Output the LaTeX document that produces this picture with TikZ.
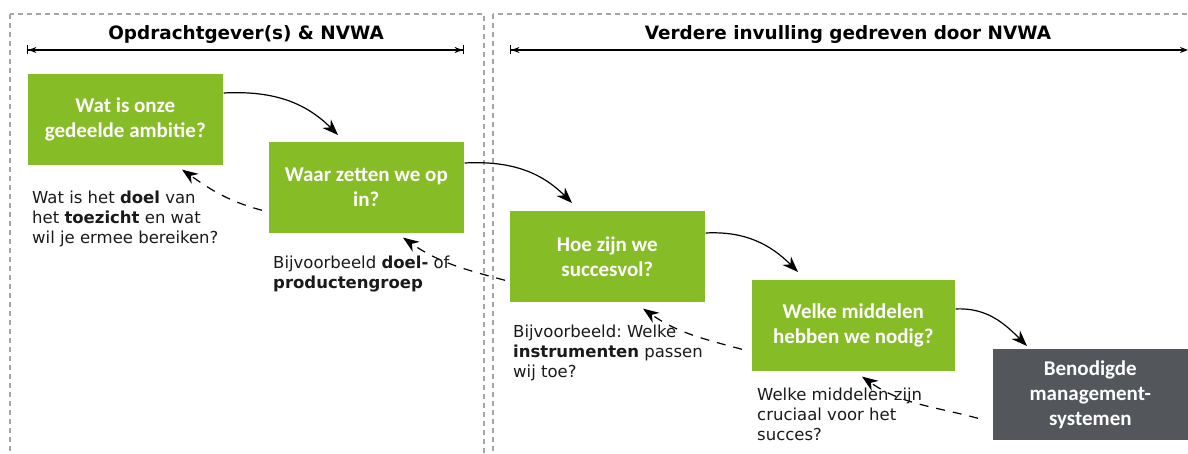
\documentclass[tikz,border=0pt]{standalone}
\usepackage{fontspec}
\setmainfont{DejaVu Sans}
\newfontfamily\boxfont{Carlito}
\usetikzlibrary{arrows.meta}
\frenchspacing

\definecolor{nvwagreen}{HTML}{86BC25}
\definecolor{nvwagrey}{HTML}{53565A}
\definecolor{panelgrey}{HTML}{A6A6A6}
\definecolor{notetext}{HTML}{1A1A1A}

\tikzset{
  stepbox/.style={fill=nvwagreen, draw=white, line width=0.6pt, text=white,
    align=center, anchor=north west, inner sep=0pt,
    minimum width=196pt, minimum height=92pt,
    font=\boxfont\bfseries\fontsize{21}{25}\selectfont},
  endbox/.style={stepbox, fill=nvwagrey},
  note/.style={anchor=north west, align=left, inner sep=0pt, text=notetext,
    font=\fontsize{16.5}{20}\selectfont},
  header/.style={font=\bfseries\fontsize{18.4}{22}\selectfont, inner sep=0pt},
  panel/.style={draw=panelgrey, line width=1.1pt, dash pattern=on 5pt off 4pt},
  span/.style={line width=1.4pt},
  flow/.style={line width=1.2pt, -{Stealth[length=16pt,width=12pt]}},
  back/.style={flow, dash pattern=on 9pt off 8pt}
}

\begin{document}
\begin{tikzpicture}[x=1pt,y=1pt]
\useasboundingbox (0,0) rectangle (1188,-454);

% panels
\draw[panel] (10,-14) rectangle (484,-460);
\draw[panel] (493,-14) rectangle (1195,-460);

% headers
\node[header] (h1) at (246,-34) {Opdrachtgever(s) \& NVWA};
\node[header] (h2) at (848,-34) {Verdere invulling gedreven door NVWA};
\coordinate (s1a) at (27,-50);
\coordinate (s1b) at (464,-50);
\coordinate (s2a) at (510,-50);
\coordinate (s2b) at (1188,-50);
\draw[span, {Bar[width=9pt]Stealth[length=8pt,width=6pt]}-{Stealth[length=8pt,width=6pt]Bar[width=9pt]}] (s1a) -- (s1b);
\draw[span, {Bar[width=9pt]Stealth[length=8pt,width=6pt]}-{Stealth[length=8pt,width=6pt]}] (s2a) -- (s2b);

% steps
\node[stepbox] (b1) at (27,-73) {Wat is onze\\gedeelde ambitie?};
\node[stepbox] (b2) at (268,-141) {Waar zetten we op\\in?};
\node[stepbox] (b3) at (509,-210) {Hoe zijn we\\succesvol?};
\node[stepbox, minimum width=204pt] (b4) at (751,-279) {Welke middelen\\hebben we nodig?};
\node[endbox] (b5) at (992,-348) {Benodigde\\management-\\systemen};

% forward
\draw[flow] ([yshift=-20pt]b1.north east) to[out=3,in=135] ([xshift=70pt,yshift=6pt]b2.north west);
\draw[flow] ([yshift=-22pt]b2.north east) to[out=3,in=135] ([xshift=63pt,yshift=7pt]b3.north west);
\draw[flow] ([yshift=-23pt]b3.north east) to[out=3,in=135] ([xshift=47pt,yshift=7pt]b4.north west);
\draw[flow] ([yshift=-30pt]b4.north east) to[out=3,in=135] ([xshift=35pt,yshift=2pt]b5.north west);

% back
\draw[back] ([xshift=-6pt,yshift=-23pt]b2.west) to[out=165,in=-35] ([xshift=155pt,yshift=-4pt]b1.south west);
\draw[back] ([xshift=-4pt,yshift=-24pt]b3.west) to[out=165,in=-35] ([xshift=135pt,yshift=-4pt]b2.south west);
\draw[back] ([xshift=-9pt,yshift=-24pt]b4.west) to[out=165,in=-35] ([xshift=134pt,yshift=-6pt]b3.south west);
\draw[back] ([xshift=-14pt,yshift=-24pt]b5.west) to[out=165,in=-35] ([xshift=111pt,yshift=-5pt]b4.south west);

% notes
\node[note] (n1) at (32,-191) {Wat is het \textbf{doel} van\\het \textbf{toezicht} en wat\\wil je ermee bereiken?};
\node[note] (n2) at (273,-256) {Bijvoorbeeld \textbf{doel-} of\\\textbf{productengroep}};
\node[note] (n3) at (513,-325) {Bijvoorbeeld: Welke\\\textbf{instrumenten} passen\\wij toe?};
\node[note] (n4) at (757,-388) {Welke middelen zijn\\cruciaal voor het\\succes?};
\end{tikzpicture}
\end{document}
